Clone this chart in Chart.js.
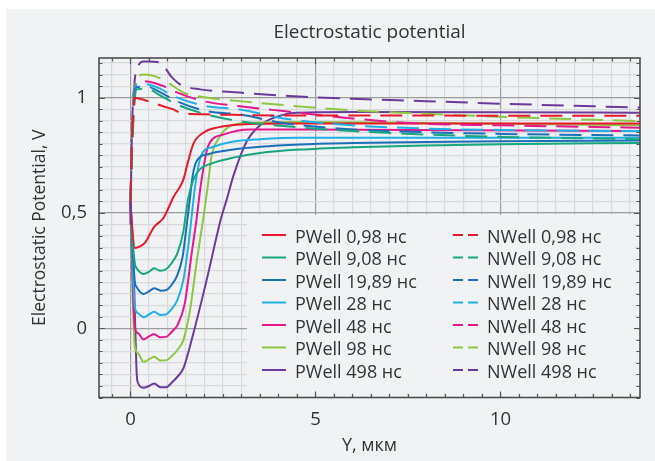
<!DOCTYPE html>
<html><head><meta charset="utf-8">
<script src="https://cdn.jsdelivr.net/npm/chart.js@4.4.1/dist/chart.umd.min.js"></script>
<style>html,body{margin:0;padding:0;background:#fff;}</style>
</head><body>
<canvas id="c" width="655" height="461"></canvas>
<script>
// ---------- data (x in мкм, y in V) ----------
const chartTitle = 'Electrostatic potential';
const seriesLabels = ['0,98 нс','9,08 нс','19,89 нс','28 нс','48 нс','98 нс','498 нс'];
const seriesColors = ['#e8192c','#17a67d','#1a6fba','#1fb0e6','#e5178c','#8dc641','#6b3a9b'];

// PWell (solid)
const pw1_x = [0,0.04,0.12,0.21,0.39,0.64,0.89,1.16,1.43,1.52,1.70,1.97,2.33,3.23,4.5,7,10,13.77];
const pw1_y = [0.55,0.45,0.348,0.352,0.37,0.44,0.478,0.568,0.645,0.70,0.80,0.848,0.87,0.886,0.888,0.888,0.888,0.888];
const pw2_x = [0,0.04,0.12,0.17,0.35,0.5,0.64,0.8,0.96,1.1,1.27,1.43,1.5,1.57,1.7,1.88,2.2,2.78,3.5,4.58,6,8,10,13.77];
const pw2_y = [0.55,0.42,0.28,0.26,0.236,0.245,0.26,0.25,0.256,0.28,0.326,0.42,0.5,0.57,0.645,0.69,0.715,0.74,0.76,0.775,0.785,0.793,0.798,0.804];
const pw3_x = [0,0.04,0.12,0.17,0.35,0.5,0.64,0.82,0.98,1.12,1.27,1.41,1.5,1.56,1.62,1.68,1.79,2.1,2.78,3.5,4.58,6,8,10,13.77];
const pw3_y = [0.55,0.4,0.2,0.178,0.149,0.16,0.174,0.163,0.167,0.19,0.232,0.311,0.42,0.5,0.58,0.66,0.725,0.755,0.775,0.787,0.797,0.803,0.808,0.811,0.814];
const pw4_x = [0,0.04,0.12,0.21,0.35,0.5,0.64,0.8,0.96,1.12,1.27,1.43,1.55,1.65,1.75,1.92,2.2,2.78,3.5,4.58,6,10,13.77];
const pw4_y = [0.55,0.35,0.09,0.065,0.048,0.06,0.072,0.058,0.06,0.085,0.123,0.21,0.34,0.478,0.62,0.753,0.785,0.81,0.82,0.826,0.826,0.826,0.826];
const pw5_x = [0,0.04,0.12,0.21,0.35,0.5,0.64,0.8,0.98,1.12,1.27,1.47,1.65,1.79,1.9,2.1,2.51,3.23,4.5,13.77];
const pw5_y = [0.55,0.3,0.0,-0.022,-0.048,-0.035,-0.026,-0.039,-0.036,-0.015,0.014,0.109,0.32,0.478,0.62,0.79,0.84,0.862,0.862,0.855];
const pw6_x = [0,0.04,0.12,0.21,0.35,0.5,0.64,0.82,0.98,1.12,1.27,1.43,1.61,1.8,1.97,2.1,2.19,2.37,2.69,3.23,4.5,8,13.77];
const pw6_y = [0.55,0.25,-0.08,-0.109,-0.145,-0.135,-0.123,-0.14,-0.138,-0.12,-0.094,-0.051,0.08,0.3,0.478,0.63,0.746,0.82,0.877,0.891,0.895,0.89,0.88];
const pw7_x = [0,0.08,0.13,0.17,0.2,0.35,0.5,0.64,0.82,0.96,1.12,1.27,1.43,1.7,2.06,2.45,2.6,2.78,3.14,3.5,3.77,4.49,6,10,13.77];
const pw7_y = [0.55,0.3,0.0,-0.2,-0.235,-0.258,-0.25,-0.239,-0.256,-0.256,-0.235,-0.21,-0.174,-0.022,0.21,0.478,0.558,0.66,0.81,0.88,0.906,0.935,0.938,0.937,0.935];

// NWell (dashed)
const nw1_x = [0,0.05,0.12,0.3,0.62,0.9,1.16,1.34,2,3,4,6,10,13.77];
const nw1_y = [0.55,0.85,1.0,0.993,0.978,0.962,0.949,0.935,0.928,0.925,0.923,0.923,0.922,0.922];
const nw2_x = [0,0.05,0.12,0.17,0.44,0.8,1.25,2.06,2.96,4.13,6,8,10,13.77];
const nw2_y = [0.55,0.8,1.0,1.036,1.039,1.01,0.971,0.927,0.898,0.877,0.855,0.84,0.83,0.82];
const nw3_x = [0,0.05,0.12,0.17,0.44,0.8,1.25,2.06,2.96,4.13,6,8,10,13.77];
const nw3_y = [0.55,0.82,1.02,1.045,1.048,1.024,0.985,0.942,0.927,0.89,0.862,0.85,0.843,0.836];
const nw4_x = [0,0.05,0.12,0.2,0.44,0.8,1.16,2.06,2.96,4.13,6,8,10,13.77];
const nw4_y = [0.55,0.85,1.04,1.06,1.058,1.039,1.007,0.963,0.949,0.91,0.88,0.866,0.86,0.855];
const nw5_x = [0,0.05,0.12,0.3,0.62,0.89,1.3,1.97,2.96,4.13,6,7.5,10,13.77];
const nw5_y = [0.55,0.88,1.05,1.072,1.065,1.05,1.02,0.985,0.963,0.942,0.91,0.89,0.88,0.87];
const nw6_x = [0,0.05,0.12,0.21,0.35,0.71,1.02,1.43,1.79,2.96,4.13,6,8,10,13.77];
const nw6_y = [0.55,0.9,1.07,1.094,1.10,1.09,1.065,1.022,1.007,0.985,0.968,0.945,0.93,0.917,0.898];
const nw7_x = [0,0.04,0.1,0.21,0.35,0.48,0.8,1.11,1.34,1.88,2.96,4.3,6,8,10,13.77];
const nw7_y = [0.45,0.85,1.05,1.137,1.157,1.157,1.152,1.09,1.058,1.036,1.022,1.007,0.995,0.985,0.974,0.957];

const xTickLabels = {'0':'0', '5':'5', '10':'10'};
const yTickLabels = {'0':'0', '0.5':'0,5', '1':'1'};

// ---------- build ----------
const pwX=[pw1_x,pw2_x,pw3_x,pw4_x,pw5_x,pw6_x,pw7_x], pwY=[pw1_y,pw2_y,pw3_y,pw4_y,pw5_y,pw6_y,pw7_y];
const nwX=[nw1_x,nw2_x,nw3_x,nw4_x,nw5_x,nw6_x,nw7_x], nwY=[nw1_y,nw2_y,nw3_y,nw4_y,nw5_y,nw6_y,nw7_y];
const pts=(xs,ys)=>xs.map((x,i)=>({x:x,y:ys[i]}));
const datasets=[];
for(let i=0;i<7;i++){
  datasets.push({label:'NWell '+seriesLabels[i],data:pts(nwX[i],nwY[i]),borderColor:seriesColors[i],borderWidth:2,borderDash:[22,10],pointRadius:0,fill:false,cubicInterpolationMode:'monotone'});
}
for(let i=0;i<7;i++){
  datasets.push({label:'PWell '+seriesLabels[i],data:pts(pwX[i],pwY[i]),borderColor:seriesColors[i],borderWidth:2,pointRadius:0,fill:false,cubicInterpolationMode:'monotone'});
}

const BG='#f1f2f4', FONT='"Open Sans", "Noto Sans", sans-serif', TXT='#333333';
const isMult=(v,s)=>Math.abs(v/s-Math.round(v/s))<1e-6;
const key=(v)=>String(Math.round(v*100)/100);

const decor={
  id:'decor',
  beforeDraw(chart){
    const c=chart.ctx; c.save();
    c.fillStyle='#ffffff'; c.fillRect(0,0,655,461);
    c.fillStyle=BG; c.fillRect(6,9,649,452);
    c.restore();
  },
  beforeDatasetsDraw(chart){
    const c=chart.ctx; c.save();
    c.fillStyle=BG; c.fillRect(247,215,388,178);
    c.restore();
  },
  afterDatasetsDraw(chart){
    const c=chart.ctx, a=chart.chartArea, xs=chart.scales.x, ys=chart.scales.y;
    c.save();
    c.strokeStyle='#555555'; c.lineWidth=1.2;
    c.beginPath();
    for(let v=-0.5; v<=13.5+1e-9; v+=0.5){
      const p=Math.round(xs.getPixelForValue(v))+0.5, L=isMult(v,5)?6:3.5;
      c.moveTo(p,a.bottom); c.lineTo(p,a.bottom-L);
      c.moveTo(p,a.top); c.lineTo(p,a.top+L);
    }
    for(let k=-6;k<=23;k++){
      const v=k*0.05, p=Math.round(ys.getPixelForValue(v))+0.5, L=(k%10===0)?6:3.5;
      c.moveTo(a.left,p); c.lineTo(a.left+L,p);
      c.moveTo(a.right,p); c.lineTo(a.right-L,p);
    }
    c.stroke();
    c.strokeStyle='#4d4d4d'; c.lineWidth=1.6;
    c.strokeRect(a.left,a.top,a.right-a.left,a.bottom-a.top);
    c.restore();
  },
  afterDraw(chart){
    const c=chart.ctx, a=chart.chartArea; c.save();
    // chart title centred over the plot area
    c.font='19px '+FONT; c.fillStyle=TXT; c.textAlign='center'; c.textBaseline='middle';
    c.fillText(chartTitle,(a.left+a.right)/2,33);
    // legend
    c.font='18px '+FONT; c.textBaseline='alphabetic'; c.textAlign='left';
    for(let i=0;i<7;i++){
      const y=235+22.5*i;
      c.strokeStyle=seriesColors[i]; c.lineWidth=2;
      c.setLineDash([]); c.beginPath(); c.moveTo(262,y); c.lineTo(286,y); c.stroke();
      c.fillText('PWell '+seriesLabels[i],295,y+7.5);
      c.setLineDash([10,5]); c.beginPath(); c.moveTo(453,y); c.lineTo(478,y); c.stroke();
      c.setLineDash([]);
      c.fillText('NWell '+seriesLabels[i],487,y+7.5);
    }
    c.restore();
  }
};

new Chart(document.getElementById('c'),{
  type:'line',
  data:{datasets},
  options:{
    responsive:false, animation:false, devicePixelRatio:1,
    layout:{padding:{top:58,right:15,bottom:0,left:0}},
    plugins:{ legend:{display:false}, tooltip:{enabled:false}, title:{display:false} },
    scales:{
      x:{type:'linear',min:-0.85,max:13.77,
        afterFit:(s)=>{s.height=63.5;},
        border:{display:false},
        grid:{drawTicks:false,lineWidth:1.2,color:(ctx)=>isMult(ctx.tick.value,5)?'#9c9c9c':'#d8d9dc'},
        ticks:{stepSize:0.5,includeBounds:false,autoSkip:false,maxRotation:0,padding:11,color:TXT,font:{family:FONT,size:18.5},
          callback:(v)=>(isMult(v,5)&&xTickLabels[key(v)]!==undefined)?xTickLabels[key(v)]:''},
        title:{display:true,text:'Y, мкм',color:TXT,font:{family:FONT,size:18},padding:{top:0,bottom:4}}
      },
      y:{type:'linear',min:-0.3,max:1.172,
        afterFit:(s)=>{s.width=99;},
        border:{display:false},
        grid:{drawTicks:false,lineWidth:1.2,color:(ctx)=>isMult(ctx.tick.value,0.5)?'#9c9c9c':'#d8d9dc'},
        ticks:{stepSize:0.05,includeBounds:false,autoSkip:false,padding:12,color:TXT,font:{family:FONT,size:18.5},
          callback:(v)=>(isMult(v,0.5)&&yTickLabels[key(v)]!==undefined)?yTickLabels[key(v)]:''},
        title:{display:true,text:'Electrostatic Potential, V',color:TXT,font:{family:FONT,size:17.5},padding:{top:29.5,bottom:0}}
      }
    }
  },
  plugins:[decor]
});
</script>
</body></html>
